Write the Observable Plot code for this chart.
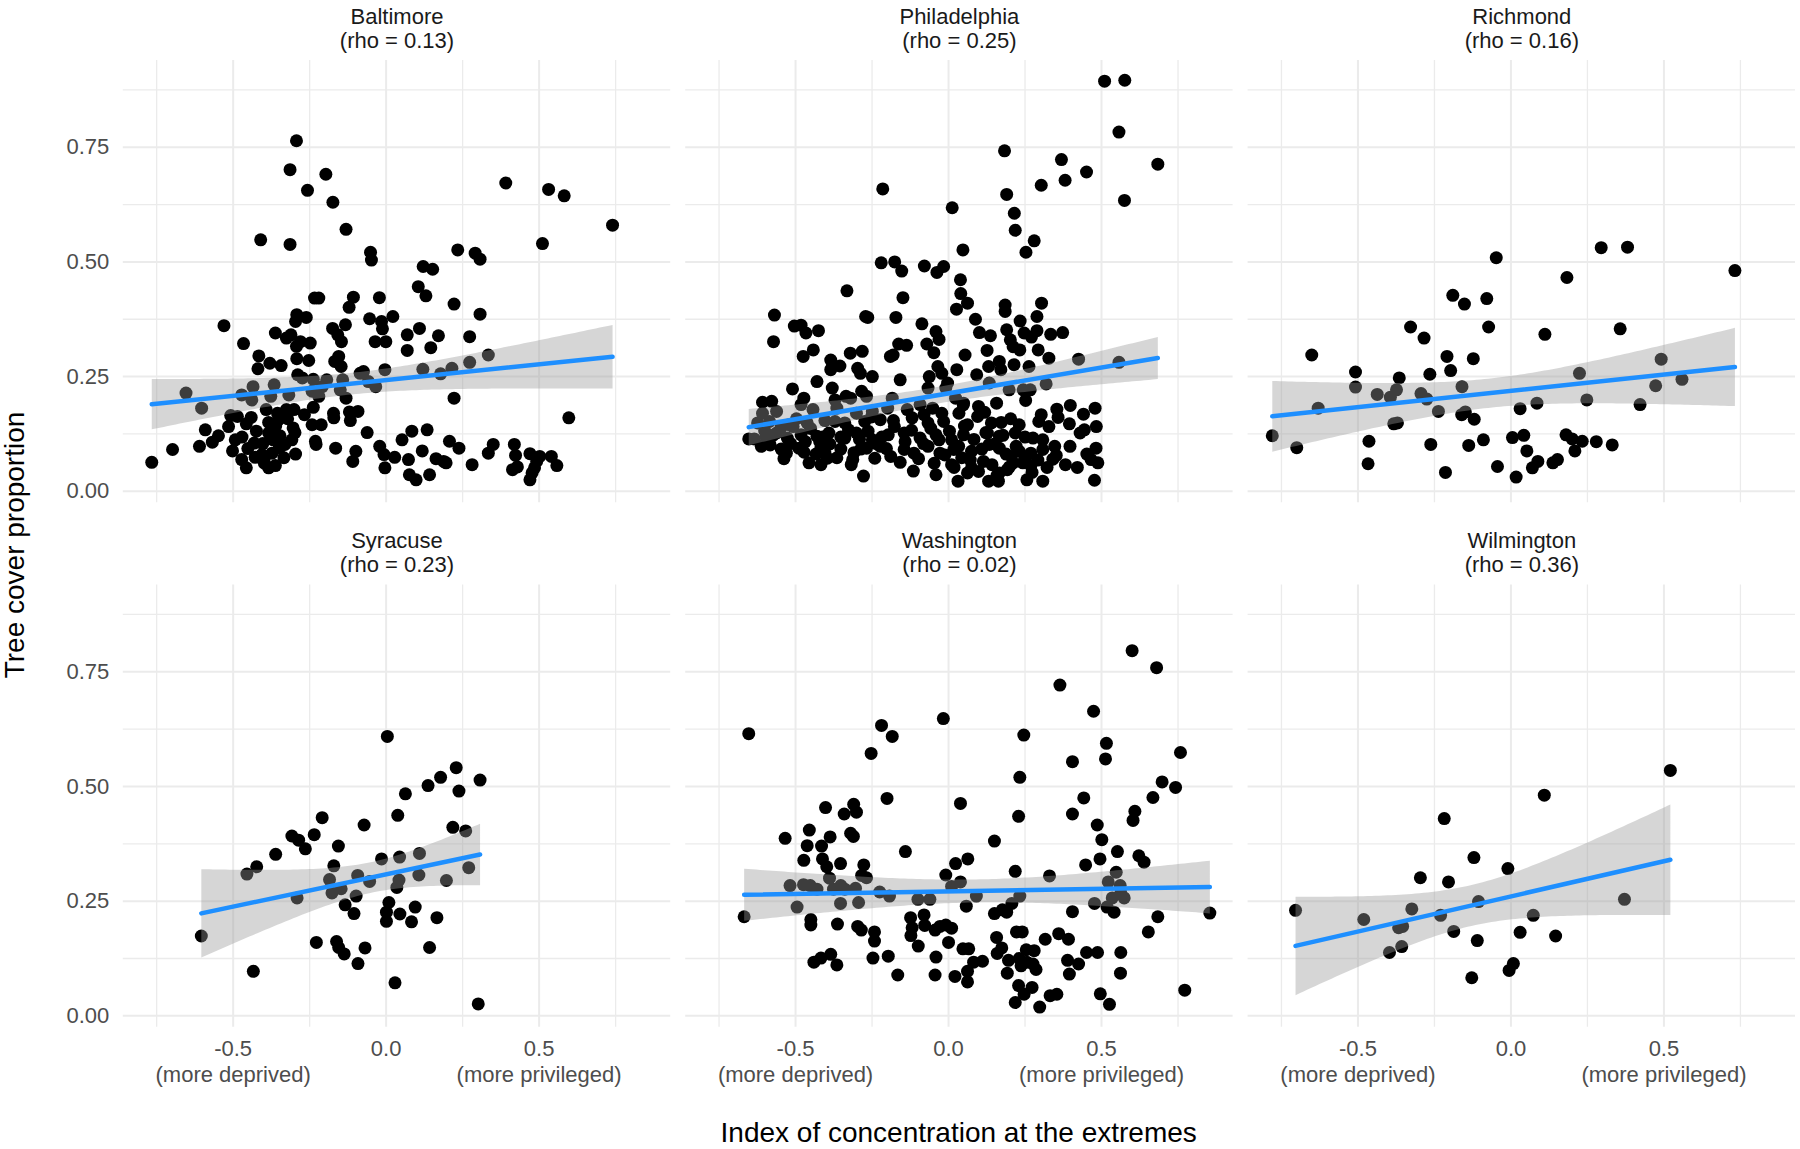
<!DOCTYPE html>
<html><head><meta charset="utf-8">
<script src="https://cdn.jsdelivr.net/npm/d3@7"></script>
<script src="https://cdn.jsdelivr.net/npm/@observablehq/plot@0.6"></script>
<style>
body{margin:0;background:#fff;font-family:"Liberation Sans",Arial,sans-serif;}
#wrap{position:relative;width:1800px;height:1149px;overflow:hidden;}
#wrap svg{position:absolute;left:0;top:0;}
.xtitle{position:absolute;left:958.7px;top:1133px;transform:translate(-50%,-50%);font-size:28px;color:#000;white-space:nowrap;}
.ytitle{position:absolute;left:15px;top:545px;transform:translate(-50%,-50%) rotate(-90deg);font-size:28px;color:#000;white-space:nowrap;}
</style></head><body>
<div id="wrap"><div class="xtitle">Index of concentration at the extremes</div><div class="ytitle">Tree cover proportion</div></div>
<script>
// ---- data ----
const cityNames = ["Baltimore","Philadelphia","Richmond","Syracuse","Washington","Wilmington"];
const rhoValues = ["0.13","0.25","0.16","0.23","0.02","0.36"];
const xTicks = [-0.5, 0, 0.5];
const xTickLabels = ["-0.5\n(more deprived)", "0.0", "0.5\n(more privileged)"];
const xMinorTicks = [-0.75, -0.25, 0.25, 0.75];
const yTicks = [0, 0.25, 0.5, 0.75];
const yMinorTicks = [0.125, 0.375, 0.625, 0.875];

const baltimore = [[-0.766,0.063],[-0.698,0.091],[-0.654,0.214],[-0.603,0.181],[-0.610,0.098],[-0.591,0.134],[-0.568,0.107],[-0.530,0.361],[-0.515,0.141],[-0.508,0.165],[-0.493,0.112],[-0.486,0.163],[-0.472,0.069],[-0.466,0.322],[-0.472,0.210],[-0.457,0.147],[-0.457,0.051],[-0.439,0.199],[-0.435,0.228],[-0.431,0.105],[-0.416,0.295],[-0.419,0.267],[-0.410,0.548],[-0.406,0.080],[-0.399,0.070],[-0.384,0.150],[-0.384,0.127],[-0.384,0.051],[-0.380,0.279],[-0.377,0.207],[-0.366,0.232],[-0.362,0.345],[-0.369,0.112],[-0.355,0.170],[-0.352,0.156],[-0.349,0.094],[-0.343,0.274],[-0.334,0.073],[-0.326,0.334],[-0.326,0.178],[-0.318,0.210],[-0.314,0.538],[-0.314,0.701],[-0.311,0.341],[-0.308,0.112],[-0.304,0.138],[-0.301,0.178],[-0.296,0.081],[-0.296,0.370],[-0.293,0.764],[-0.292,0.385],[-0.293,0.316],[-0.292,0.289],[-0.289,0.254],[-0.280,0.326],[-0.274,0.247],[-0.267,0.167],[-0.261,0.379],[-0.257,0.656],[-0.253,0.285],[-0.248,0.323],[-0.242,0.218],[-0.242,0.145],[-0.238,0.244],[-0.238,0.183],[-0.234,0.421],[-0.231,0.109],[-0.229,0.102],[-0.220,0.421],[-0.220,0.207],[-0.212,0.145],[-0.209,0.228],[-0.197,0.691],[-0.194,0.243],[-0.175,0.355],[-0.174,0.630],[-0.172,0.170],[-0.171,0.160],[-0.165,0.094],[-0.168,0.283],[-0.158,0.341],[-0.155,0.294],[-0.150,0.221],[-0.147,0.272],[-0.146,0.326],[-0.142,0.243],[-0.133,0.363],[-0.131,0.203],[-0.131,0.571],[-0.121,0.401],[-0.120,0.173],[-0.117,0.154],[-0.109,0.065],[-0.107,0.423],[-0.099,0.087],[-0.092,0.174],[-0.085,0.257],[-0.074,0.261],[-0.058,0.239],[-0.054,0.376],[-0.051,0.521],[-0.048,0.504],[-0.036,0.326],[-0.034,0.228],[-0.022,0.422],[-0.015,0.370],[-0.012,0.354],[-0.007,0.080],[-0.004,0.051],[-0.001,0.326],[-0.004,0.265],[0.022,0.381],[0.028,0.074],[0.069,0.341],[0.069,0.307],[0.073,0.069],[0.076,0.036],[0.098,0.025],[0.105,0.446],[0.109,0.355],[0.120,0.266],[0.121,0.490],[0.130,0.426],[0.134,0.134],[0.142,0.036],[0.146,0.313],[0.152,0.484],[0.171,0.339],[0.178,0.256],[0.188,0.065],[0.196,0.062],[0.207,0.109],[0.215,0.268],[0.222,0.203],[0.222,0.408],[0.234,0.526],[0.273,0.281],[0.273,0.337],[0.291,0.519],[0.307,0.506],[0.307,0.386],[0.334,0.297],[0.334,0.083],[0.350,0.102],[0.391,0.672],[0.413,0.047],[0.419,0.102],[0.423,0.078],[0.429,0.053],[0.470,0.082],[0.477,0.040],[0.470,0.025],[0.485,0.051],[0.492,0.065],[0.502,0.076],[0.511,0.540],[0.531,0.658],[0.540,0.076],[0.558,0.056],[0.582,0.644],[0.597,0.160],[0.740,0.580],
[-0.471,0.118],[-0.452,0.093],[-0.441,0.161],[-0.424,0.131],[-0.403,0.104],[-0.392,0.178],[-0.373,0.083],[-0.361,0.142],[-0.347,0.121],[-0.331,0.102],[-0.322,0.158],[0.084,0.131],[-0.298,0.128],[-0.021,0.098],[0.238,0.094],[0.281,0.058],[0.052,0.112],[0.118,0.088],[-0.062,0.128],[0.163,0.071],[-0.398,0.061],[-0.428,0.074],[-0.502,0.088],[-0.548,0.121],[-0.362,0.056]];

const philadelphia = [[0.510,0.894],[0.576,0.896],[0.557,0.783],[0.684,0.713],[0.575,0.634],[0.183,0.742],[0.369,0.723],[0.451,0.696],[0.381,0.678],[0.303,0.667],[0.190,0.647],[-0.215,0.659],[0.012,0.618],[0.215,0.606],[0.218,0.569],[0.280,0.546],[0.253,0.521],[0.047,0.526],[-0.220,0.498],[-0.176,0.500],[-0.153,0.480],[-0.079,0.491],[-0.038,0.477],[-0.016,0.490],[0.039,0.461],[-0.332,0.437],[-0.149,0.422],[0.040,0.431],[0.062,0.410],[0.026,0.397],[0.185,0.406],[0.185,0.392],[0.304,0.410],[-0.569,0.384],[-0.572,0.326],[-0.504,0.360],[-0.482,0.362],[-0.466,0.345],[-0.425,0.350],[-0.271,0.381],[-0.264,0.379],[-0.172,0.379],[-0.087,0.365],[-0.041,0.348],[-0.031,0.331],[0.088,0.375],[0.101,0.346],[0.137,0.339],[0.190,0.352],[0.234,0.371],[0.247,0.345],[0.271,0.336],[0.289,0.381],[0.289,0.350],[0.334,0.342],[0.373,0.346],[-0.442,0.308],[-0.475,0.294],[-0.321,0.301],[-0.282,0.305],[-0.190,0.294],[-0.181,0.297],[-0.163,0.321],[-0.137,0.318],[-0.071,0.321],[-0.048,0.302],[0.054,0.297],[0.126,0.307],[0.202,0.330],[0.211,0.315],[0.233,0.308],[0.293,0.308],[0.166,0.283],[-0.385,0.286],[-0.385,0.265],[-0.355,0.273],[-0.297,0.268],[-0.288,0.257],[-0.249,0.250],[-0.035,0.272],[-0.022,0.257],[-0.003,0.236],[0.027,0.265],[0.092,0.254],[0.131,0.272],[0.171,0.265],[0.214,0.276],[0.263,0.272],[0.328,0.290],[0.425,0.288],[0.557,0.281],[-0.063,0.250],[-0.158,0.243],[-0.430,0.239],[-0.510,0.223],[-0.380,0.225],[-0.067,0.225],[-0.009,0.225],[0.133,0.236],[0.198,0.221],[0.244,0.221],[0.267,0.221],[0.319,0.234],[-0.608,0.194],[-0.578,0.196],[-0.473,0.203],[-0.482,0.189],[-0.371,0.199],[-0.335,0.207],[-0.320,0.203],[-0.284,0.218],[-0.268,0.207],[-0.184,0.203],[-0.093,0.189],[0.023,0.203],[0.049,0.192],[0.098,0.185],[0.157,0.192],[0.354,0.179],[0.479,0.181],[-0.608,0.170],[-0.562,0.174],[-0.443,0.178],[-0.365,0.181],[-0.301,0.170],[-0.249,0.174],[-0.199,0.181],[-0.135,0.178],[-0.080,0.167],[-0.022,0.170],[0.034,0.170],[0.095,0.163],[0.303,0.167],[-0.624,0.149],[-0.585,0.152],[-0.521,0.145],[-0.462,0.149],[-0.404,0.154],[-0.339,0.149],[-0.274,0.152],[-0.223,0.156],[-0.180,0.154],[-0.119,0.160],[-0.067,0.149],[-0.016,0.152],[0.062,0.145],[0.140,0.149],[0.172,0.150],[0.231,0.145],[0.295,0.152],[0.395,0.147],[0.483,0.141],[0.328,0.141],[0.444,0.134],[-0.635,0.114],[-0.597,0.118],[-0.562,0.127],[-0.527,0.116],[-0.482,0.123],[-0.430,0.120],[-0.391,0.127],[-0.339,0.116],[-0.301,0.127],[-0.249,0.112],[-0.197,0.123],[-0.145,0.127],[-0.093,0.116],[-0.041,0.123],[0.010,0.112],[0.049,0.123],[0.127,0.127],[0.166,0.120],[0.218,0.127],[0.250,0.118],[0.276,0.116],[0.308,0.112],[0.430,0.127],[0.347,0.098],[0.397,0.098],[0.482,0.094],[-0.547,0.092],[-0.530,0.083],[-0.472,0.085],[-0.417,0.094],[-0.404,0.083],[-0.365,0.073],[-0.313,0.069],[-0.268,0.094],[-0.223,0.098],[-0.189,0.076],[-0.145,0.091],[-0.113,0.083],[-0.067,0.098],[-0.028,0.083],[0.017,0.091],[0.043,0.073],[0.075,0.087],[0.114,0.065],[0.133,0.102],[0.166,0.094],[0.205,0.076],[0.231,0.087],[0.250,0.073],[0.269,0.083],[0.308,0.091],[0.341,0.070],[0.466,0.069],[-0.417,0.058],[-0.278,0.033],[-0.115,0.044],[-0.041,0.036],[0.010,0.058],[0.031,0.022],[0.062,0.040],[0.075,0.051],[0.131,0.022],[0.163,0.022],[0.166,0.040],[0.192,0.047],[0.211,0.062],[0.256,0.025],[0.269,0.056],[0.308,0.022],[0.477,0.024],[-0.653,0.114],
[-0.601,0.132],[-0.583,0.101],[-0.548,0.138],[-0.516,0.104],[-0.497,0.158],[-0.468,0.108],[-0.451,0.137],[-0.433,0.081],[-0.412,0.118],[-0.388,0.103],[-0.371,0.152],[-0.352,0.092],[-0.327,0.134],[-0.309,0.084],[-0.291,0.113],[-0.263,0.131],[-0.241,0.072],[-0.218,0.118],[-0.203,0.093],[-0.177,0.141],[-0.158,0.063],[-0.142,0.108],[-0.121,0.133],[-0.098,0.071],[-0.082,0.104],[-0.058,0.137],[-0.047,0.061],[-0.031,0.112],[-0.012,0.079],[0.003,0.131],[0.018,0.052],[0.033,0.098],[0.052,0.142],[0.071,0.068],[0.083,0.113],[0.098,0.043],[0.109,0.092],[0.122,0.128],[0.142,0.058],[0.151,0.103],[0.158,0.034],[0.178,0.122],[0.188,0.081],[0.199,0.053],[0.221,0.098],[-0.612,0.098],[0.243,0.062],[-0.574,0.122],[0.273,0.041],[-0.538,0.071],[0.292,0.068],[-0.489,0.094],[0.322,0.052],[-0.456,0.062],[0.352,0.078],[-0.421,0.108],[0.382,0.058],[-0.396,0.072],[-0.352,0.118],[0.421,0.052],[-0.318,0.058],[0.452,0.081],[-0.287,0.092],[-0.236,0.104],[0.488,0.062],[0.118,0.172],[0.203,0.158],[-0.508,0.141],[0.358,0.161],[-0.052,0.181],[0.048,0.188],[0.252,0.198],[0.398,0.187],[0.441,0.168],[-0.252,0.162]];

const richmond = [[-0.780,0.121],[-0.700,0.095],[-0.651,0.297],[-0.630,0.181],[-0.508,0.260],[-0.508,0.227],[-0.464,0.109],[-0.467,0.060],[-0.437,0.211],[-0.394,0.205],[-0.374,0.221],[-0.365,0.247],[-0.383,0.147],[-0.371,0.149],[-0.328,0.358],[-0.294,0.213],[-0.284,0.334],[-0.275,0.201],[-0.265,0.255],[-0.262,0.102],[-0.237,0.174],[-0.214,0.041],[-0.209,0.294],[-0.197,0.263],[-0.190,0.427],[-0.160,0.228],[-0.152,0.408],[-0.161,0.167],[-0.149,0.173],[-0.138,0.100],[-0.123,0.289],[-0.120,0.157],[-0.090,0.112],[-0.079,0.420],[-0.073,0.358],[-0.048,0.509],[-0.044,0.054],[0.005,0.117],[0.017,0.031],[0.030,0.180],[0.042,0.122],[0.052,0.088],[0.070,0.051],[0.088,0.065],[0.085,0.192],[0.111,0.342],[0.137,0.062],[0.152,0.069],[0.180,0.123],[0.183,0.466],[0.200,0.114],[0.209,0.088],[0.224,0.257],[0.233,0.109],[0.248,0.199],[0.279,0.108],[0.295,0.531],[0.331,0.101],[0.357,0.354],[0.381,0.532],[0.422,0.189],[0.473,0.230],[0.491,0.288],[0.559,0.244],[0.732,0.481]];

const syracuse = [[-0.604,0.174],[-0.455,0.309],[-0.423,0.325],[-0.434,0.097],[-0.361,0.352],[-0.308,0.392],[-0.286,0.383],[-0.264,0.364],[-0.291,0.257],[-0.235,0.395],[-0.209,0.432],[-0.228,0.160],[-0.185,0.297],[-0.171,0.327],[-0.156,0.370],[-0.177,0.268],[-0.147,0.277],[-0.134,0.242],[-0.162,0.162],[-0.155,0.149],[-0.137,0.135],[-0.105,0.223],[-0.098,0.261],[-0.093,0.306],[-0.092,0.114],[-0.072,0.416],[-0.069,0.148],[-0.054,0.293],[-0.015,0.342],[0.004,0.609],[0.001,0.226],[0.009,0.247],[0.001,0.206],[0.029,0.072],[0.035,0.280],[0.038,0.437],[0.044,0.346],[0.042,0.296],[0.045,0.222],[0.063,0.484],[0.083,0.205],[0.095,0.237],[0.107,0.307],[0.109,0.354],[0.137,0.502],[0.142,0.149],[0.166,0.214],[0.178,0.520],[0.197,0.295],[0.218,0.411],[0.229,0.541],[0.238,0.490],[0.260,0.403],[0.270,0.323],[0.307,0.514],[0.301,0.026]];

const washington = [[-0.653,0.615],[-0.668,0.216],[-0.534,0.387],[-0.518,0.284],[-0.495,0.237],[-0.473,0.339],[-0.474,0.286],[-0.462,0.371],[-0.455,0.405],[-0.452,0.284],[-0.450,0.210],[-0.450,0.198],[-0.440,0.117],[-0.430,0.276],[-0.417,0.126],[-0.415,0.370],[-0.412,0.342],[-0.402,0.454],[-0.398,0.325],[-0.387,0.390],[-0.389,0.300],[-0.385,0.134],[-0.376,0.276],[-0.363,0.200],[-0.365,0.111],[-0.353,0.332],[-0.352,0.284],[-0.353,0.245],[-0.339,0.276],[-0.341,0.440],[-0.320,0.398],[-0.311,0.391],[-0.310,0.461],[-0.301,0.444],[-0.304,0.278],[-0.294,0.247],[-0.297,0.195],[-0.285,0.187],[-0.277,0.329],[-0.284,0.306],[-0.268,0.301],[-0.253,0.572],[-0.242,0.183],[-0.242,0.163],[-0.247,0.126],[-0.225,0.270],[-0.219,0.633],[-0.201,0.474],[-0.197,0.130],[-0.193,0.261],[-0.184,0.609],[-0.166,0.089],[-0.141,0.358],[-0.124,0.214],[-0.119,0.192],[-0.123,0.175],[-0.100,0.254],[-0.099,0.152],[-0.080,0.220],[-0.078,0.197],[-0.061,0.254],[-0.044,0.187],[-0.041,0.128],[-0.044,0.089],[-0.028,0.195],[-0.017,0.648],[-0.009,0.307],[-0.009,0.198],[0.000,0.160],[0.010,0.191],[0.010,0.282],[0.021,0.086],[0.023,0.332],[0.039,0.463],[0.039,0.292],[0.047,0.146],[0.058,0.239],[0.063,0.342],[0.062,0.097],[0.062,0.074],[0.066,0.146],[0.082,0.117],[0.091,0.261],[0.111,0.119],[0.150,0.381],[0.150,0.223],[0.157,0.171],[0.159,0.136],[0.176,0.231],[0.174,0.148],[0.190,0.226],[0.196,0.121],[0.192,0.093],[0.207,0.245],[0.218,0.315],[0.218,0.029],[0.222,0.183],[0.229,0.435],[0.229,0.066],[0.233,0.520],[0.233,0.261],[0.231,0.125],[0.237,0.109],[0.241,0.183],[0.246,0.612],[0.247,0.047],[0.254,0.144],[0.256,0.117],[0.273,0.062],[0.276,0.113],[0.280,0.142],[0.286,0.101],[0.298,0.019],[0.316,0.167],[0.330,0.305],[0.332,0.044],[0.354,0.047],[0.360,0.179],[0.364,0.721],[0.392,0.167],[0.389,0.121],[0.395,0.091],[0.405,0.554],[0.405,0.440],[0.405,0.227],[0.425,0.113],[0.442,0.475],[0.448,0.329],[0.451,0.138],[0.474,0.664],[0.477,0.245],[0.486,0.416],[0.487,0.138],[0.495,0.342],[0.496,0.048],[0.501,0.384],[0.513,0.560],[0.516,0.594],[0.518,0.237],[0.522,0.292],[0.526,0.025],[0.535,0.257],[0.541,0.226],[0.548,0.313],[0.552,0.358],[0.561,0.284],[0.563,0.268],[0.563,0.138],[0.562,0.093],[0.574,0.257],[0.600,0.796],[0.603,0.426],[0.609,0.446],[0.622,0.349],[0.639,0.335],[0.653,0.183],[0.668,0.476],[0.680,0.759],[0.684,0.216],[0.698,0.510],[0.742,0.498],[0.758,0.574],[0.772,0.056],[0.854,0.224]];

const wilmington = [[-0.704,0.230],[-0.481,0.210],[-0.324,0.233],[-0.367,0.192],[-0.354,0.195],[-0.357,0.151],[-0.397,0.138],[-0.296,0.301],[-0.218,0.430],[-0.204,0.292],[-0.230,0.219],[-0.187,0.184],[-0.121,0.345],[-0.106,0.249],[-0.110,0.164],[-0.128,0.083],[-0.010,0.321],[0.008,0.114],[-0.006,0.099],[0.030,0.182],[0.073,0.219],[0.109,0.481],[0.146,0.174],[0.371,0.254],[0.521,0.535]];

const cityPoints = [baltimore, philadelphia, richmond, syracuse, washington, wilmington];

// ---- tables built from the arrays ----
const table = cityPoints.flatMap((pts, i) => pts.map(([x, y]) => ({city: cityNames[i], col: i % 3, row: Math.floor(i / 3), x, y})));
const titles = cityNames.map((n, i) => ({label: `${n}\n(rho = ${rhoValues[i]})`, col: i % 3, row: Math.floor(i / 3)}));

const font = '"Liberation Sans", Arial, sans-serif';
const chart = Plot.plot({
  width: 1800, height: 1149,
  marginLeft: 122.8, marginRight: 5, marginTop: 60, marginBottom: 122.2,
  style: {fontFamily: font, fontSize: "22px", background: "white", color: "#1a1a1a"},
  x: {domain: [-0.859, 0.930]},
  y: {domain: [-0.025, 0.939]},
  fx: {domain: [0, 1, 2], paddingInner: 0.0267, paddingOuter: 0, round: false, axis: null},
  fy: {domain: [0, 1], paddingInner: 0.157, paddingOuter: 0, round: false, axis: null},
  marks: [
    Plot.gridX(xMinorTicks, {stroke: "#ebebeb", strokeOpacity: 1, strokeWidth: 1.3}),
    Plot.gridY(yMinorTicks, {stroke: "#ebebeb", strokeOpacity: 1, strokeWidth: 1.3}),
    Plot.gridX(xTicks, {stroke: "#ebebeb", strokeOpacity: 1, strokeWidth: 2}),
    Plot.gridY(yTicks, {stroke: "#ebebeb", strokeOpacity: 1, strokeWidth: 2}),
    Plot.dot(table, {x: "x", y: "y", fx: "col", fy: "row", r: 6.5, fill: "#000", stroke: "none"}),
    Plot.linearRegressionY(table, {x: "x", y: "y", fx: "col", fy: "row", stroke: "#1e8fff", strokeWidth: 4.5, fill: "#999999", fillOpacity: 0.4, ci: 0.95}),
    Plot.axisX(xTicks, {tickSize: 0, tickPadding: 11, tickFormat: d => xTickLabels[xTicks.indexOf(d)], fontSize: 22, lineHeight: 1.15, color: "#4d4d4d", label: null}),
    Plot.axisY(yTicks, {tickSize: 0, tickPadding: 14, tickFormat: d3.format(".2f"), fontSize: 22, color: "#4d4d4d", label: null}),
    Plot.text(titles, {fx: "col", fy: "row", frameAnchor: "top", text: "label", dy: -13, lineAnchor: "bottom", fontSize: 22, lineHeight: 1.09, fill: "#1a1a1a"})
  ]
});
document.getElementById("wrap").prepend(chart);
</script></body></html>
